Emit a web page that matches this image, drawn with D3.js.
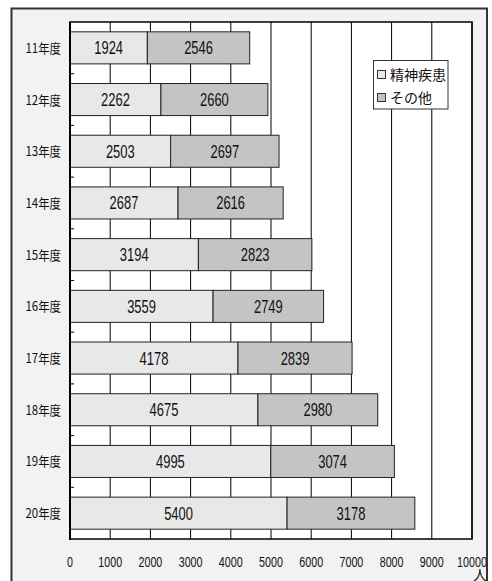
<!DOCTYPE html>
<html>
<head>
<meta charset="utf-8">
<script src="https://cdn.jsdelivr.net/npm/d3@7"></script>
<style>
  body { margin: 0; background: #fff; }
  svg { display: block; }
</style>
</head>
<body>
<svg></svg>
<script>
const years = ['11年度', '12年度', '13年度', '14年度', '15年度', '16年度', '17年度', '18年度', '19年度', '20年度'];
const mental = [1924, 2262, 2503, 2687, 3194, 3559, 4178, 4675, 4995, 5400];
const other = [2546, 2660, 2697, 2616, 2823, 2749, 2839, 2980, 3074, 3178];
const seriesNames = ['精神疾患', 'その他'];
const xTicks = [0, 1000, 2000, 3000, 4000, 5000, 6000, 7000, 8000, 9000, 10000];
const unitLabel = '人';

const width = 492;
const height = 581;
const plot = { left: 70, top: 22, right: 472, bottom: 539 };
const colors = ['#e8e8e8', '#c4c4c4'];
const numFont = '"Liberation Sans", Arial, sans-serif';
const jpFont = '"Noto Sans CJK JP", sans-serif';

const svg = d3.select('svg').attr('width', width).attr('height', height);

// outer frame
svg.append('rect')
  .attr('x', 11.5).attr('y', 8.5)
  .attr('width', 475.5).attr('height', 600)
  .attr('fill', '#f2f2f2')
  .attr('stroke', '#333').attr('stroke-width', 2);

const xScale = d3.scaleLinear().domain([0, 10000]).range([plot.left, plot.right]);
const yScale = d3.scaleBand().domain(years).range([plot.top, plot.bottom])
  .paddingInner(0.38).paddingOuter(0.19);

// plot area
svg.append('rect')
  .attr('x', plot.left).attr('y', plot.top)
  .attr('width', plot.right - plot.left).attr('height', plot.bottom - plot.top)
  .attr('fill', '#fff');

// vertical gridlines
svg.append('g')
  .selectAll('line')
  .data(xTicks)
  .enter()
  .append('line')
  .attr('x1', (d) => xScale(d)).attr('x2', (d) => xScale(d))
  .attr('y1', plot.top).attr('y2', plot.bottom)
  .attr('stroke', '#000').attr('stroke-width', 1);

// stacked bars
const rows = years.map((y, i) => ({ year: y, mental: mental[i], other: other[i] }));
const stacked = d3.stack().keys(['mental', 'other'])(rows);

stacked.forEach((layer, li) => {
  const g = svg.append('g');
  g.selectAll('rect')
    .data(layer)
    .enter()
    .append('rect')
    .attr('x', (d) => xScale(d[0]))
    .attr('y', (d) => yScale(d.data.year))
    .attr('width', (d) => xScale(d[1]) - xScale(d[0]))
    .attr('height', yScale.bandwidth())
    .attr('fill', colors[li])
    .attr('stroke', '#222').attr('stroke-width', 1);

  g.selectAll('text')
    .data(layer)
    .enter()
    .append('text')
    .attr('transform', (d) =>
      'translate(' + xScale((d[0] + d[1]) / 2) + ',' + (yScale(d.data.year) + yScale.bandwidth() / 2 + 6.5) + ') scale(0.74,1)')
    .attr('text-anchor', 'middle')
    .attr('font-family', numFont)
    .attr('font-size', 17.5)
    .attr('fill', '#111')
    .text((d) => d[1] - d[0]);
});

// plot border
svg.append('rect')
  .attr('x', plot.left).attr('y', plot.top)
  .attr('width', plot.right - plot.left).attr('height', plot.bottom - plot.top)
  .attr('fill', 'none').attr('stroke', '#000').attr('stroke-width', 1.5);
svg.append('line')
  .attr('x1', plot.left).attr('x2', plot.left)
  .attr('y1', plot.top).attr('y2', plot.bottom + 1)
  .attr('stroke', '#000').attr('stroke-width', 2);

// small ticks between categories on the y axis
svg.append('g')
  .selectAll('line')
  .data(years.slice(1))
  .enter()
  .append('line')
  .attr('x1', plot.left).attr('x2', plot.left + 4)
  .attr('y1', (d) => yScale(d) - yScale.step() * yScale.paddingInner() / 2)
  .attr('y2', (d) => yScale(d) - yScale.step() * yScale.paddingInner() / 2)
  .attr('stroke', '#000').attr('stroke-width', 1);

// y labels
svg.append('g')
  .selectAll('text')
  .data(years)
  .enter()
  .append('text')
  .attr('transform', (d) => 'translate(61,' + (yScale(d) + yScale.bandwidth() / 2 + 5) + ') scale(0.88,1)')
  .attr('text-anchor', 'end')
  .attr('font-family', jpFont)
  .attr('font-size', 13)
  .attr('fill', '#111')
  .text((d) => d);

// x labels
svg.append('g')
  .selectAll('text')
  .data(xTicks)
  .enter()
  .append('text')
  .attr('transform', (d) => 'translate(' + xScale(d) + ',567) scale(0.74,1)')
  .attr('text-anchor', 'middle')
  .attr('font-family', numFont)
  .attr('font-size', 14.5)
  .attr('fill', '#111')
  .text((d) => d);

svg.append('text')
  .attr('x', 480).attr('y', 580)
  .attr('text-anchor', 'middle')
  .attr('font-family', jpFont)
  .attr('font-size', 14)
  .attr('fill', '#111')
  .text(unitLabel);

// frame right edge drawn over labels
svg.append('line')
  .attr('x1', 487).attr('x2', 487)
  .attr('y1', 8).attr('y2', height)
  .attr('stroke', '#333').attr('stroke-width', 2);

// legend
const legend = svg.append('g');
legend.append('rect')
  .attr('x', 373.5).attr('y', 60.5)
  .attr('width', 74.5).attr('height', 48.5)
  .attr('fill', '#fff')
  .attr('stroke', '#333').attr('stroke-width', 1);

seriesNames.forEach((name, i) => {
  const cy = 75 + i * 23;
  legend.append('rect')
    .attr('x', 377.5).attr('y', cy - 4.5)
    .attr('width', 8).attr('height', 8)
    .attr('fill', colors[i])
    .attr('stroke', '#333').attr('stroke-width', 1);
  legend.append('text')
    .attr('x', 390).attr('y', cy + 5)
    .attr('font-family', jpFont)
    .attr('font-size', 14)
    .attr('fill', '#111')
    .text(name);
});
</script>
</body>
</html>
